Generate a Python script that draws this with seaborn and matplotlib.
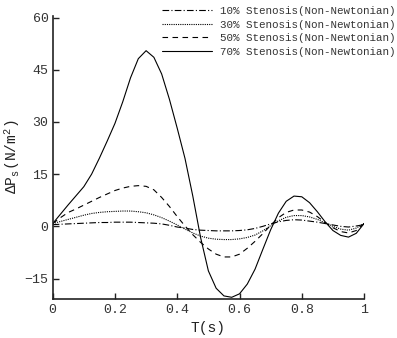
import matplotlib
matplotlib.use("Agg")
import matplotlib.pyplot as plt
from matplotlib.lines import Line2D
import pandas as pd
import seaborn as sns

# Time samples over one cardiac cycle (s)
t = [0.0, 0.025, 0.05, 0.075, 0.1, 0.125, 0.15, 0.175, 0.2, 0.225,
     0.25, 0.275, 0.3, 0.325, 0.35, 0.375, 0.4, 0.425, 0.45, 0.475,
     0.5, 0.525, 0.55, 0.575, 0.6, 0.625, 0.65, 0.675, 0.7, 0.725,
     0.75, 0.775, 0.8, 0.825, 0.85, 0.875, 0.9, 0.925, 0.95, 0.975, 1.0]

# Pressure drop across the stenosis (N/m^2)
dp_10 = [0.5, 0.6, 0.7, 0.8, 0.9, 1.0, 1.1, 1.1, 1.2, 1.2,
         1.2, 1.1, 1.0, 0.9, 0.7, 0.3, -0.2, -0.5, -0.9, -1.1,
         -1.2, -1.3, -1.3, -1.3, -1.2, -1.0, -0.6, 0.0, 0.7, 1.3,
         1.7, 1.9, 1.8, 1.5, 1.2, 0.8, 0.4, 0.0, -0.2, 0.1, 0.5]
dp_30 = [0.8, 1.4, 2.0, 2.6, 3.2, 3.7, 4.0, 4.2, 4.3, 4.4,
         4.4, 4.2, 3.9, 3.3, 2.5, 1.5, 0.4, -0.8, -1.9, -2.8,
         -3.4, -3.7, -3.8, -3.8, -3.6, -3.2, -2.5, -1.3, 0.2, 1.6,
         2.6, 3.1, 3.1, 2.7, 2.0, 1.0, 0.0, -0.8, -1.1, -0.5, 0.8]
dp_50 = [0.8, 2.5, 4.0, 5.0, 6.1, 7.2, 8.3, 9.3, 10.3, 11.0,
         11.5, 11.7, 11.5, 10.5, 8.3, 5.7, 2.8, 0.1, -2.4, -4.6,
         -6.5, -8.0, -8.8, -8.8, -8.0, -6.3, -4.3, -2.1, 0.3, 2.5,
         4.0, 4.7, 4.7, 4.1, 2.8, 1.1, -0.4, -1.5, -1.9, -1.2, 0.8]
dp_70 = [0.8, 3.5, 6.2, 8.8, 11.4, 15.0, 19.6, 24.5, 29.6, 35.8,
         42.7, 48.2, 50.5, 48.6, 43.8, 36.5, 28.2, 19.5, 8.7, -3.2,
         -12.8, -17.8, -20.0, -20.4, -19.4, -16.6, -12.3, -6.6, -1.0, 3.8,
         7.2, 8.7, 8.5, 6.8, 4.2, 1.3, -1.2, -2.6, -3.1, -2.0, 0.8]

labels = ["10% Stenosis(Non-Newtonian)", "30% Stenosis(Non-Newtonian)",
          "50% Stenosis(Non-Newtonian)", "70% Stenosis(Non-Newtonian)"]
x_ticks = [0, 0.2, 0.4, 0.6, 0.8, 1]
x_ticklabels = ["0", "0.2", "0.4", "0.6", "0.8", "1"]
y_ticks = [-15, 0, 15, 30, 45, 60]

df = pd.concat([
    pd.DataFrame({"T": t, "dP": vals, "case": lab})
    for vals, lab in zip([dp_10, dp_30, dp_50, dp_70], labels)
])

sns.set_style("ticks")
plt.rcParams["font.family"] = ["Liberation Mono", "DejaVu Sans Mono"]
plt.rcParams["mathtext.default"] = "regular"

fig = plt.figure(figsize=(3.97, 3.38), dpi=100)
ax = fig.add_axes([0.1327, 0.1163, 0.7843, 0.8377])

dash_styles = {
    labels[0]: (6, 2, 1, 2),
    labels[1]: (1, 1),
    labels[2]: (5, 4),
    labels[3]: "",
}
sns.lineplot(data=df, x="T", y="dP", hue="case", style="case",
             palette=["black"] * 4, dashes=dash_styles, linewidth=0.8,
             ax=ax, legend=False)

ax.set_xlim(0, 1)
ax.set_ylim(-20.8, 60.6)
ax.set_xticks(x_ticks)
ax.set_xticklabels(x_ticklabels)
ax.set_yticks(y_ticks)
ax.tick_params(direction="in", length=4.5, width=1.0, labelsize=9.5,
               colors="#222222", labelcolor="#333333")
ax.tick_params(axis="x", pad=3.5)
ax.tick_params(axis="y", pad=3)
for side in ("top", "right"):
    ax.spines[side].set_visible(False)
for side in ("left", "bottom"):
    ax.spines[side].set_linewidth(1.2)
    ax.spines[side].set_color("#222222")

ax.set_xlabel("T(s)", fontsize=10.5, color="#222222", labelpad=4)
ax.set_ylabel(r"$\Delta$P$_{s}$(N/m$^{2}$)", fontsize=10.5,
              color="#222222", labelpad=2)

handles = [Line2D([], [], color="black", linewidth=0.8,
                  linestyle=(0, dash_styles[lab]) if dash_styles[lab] else "-")
           for lab in labels]
fig.legend(handles, labels, loc="upper right", bbox_to_anchor=(1.0, 0.985),
           frameon=False, fontsize=7.8, handlelength=4.6, handletextpad=0.8,
           labelspacing=0.32, borderaxespad=0.0, borderpad=0.1,
           labelcolor="#333333")

fig.savefig("out.png", dpi=100)
